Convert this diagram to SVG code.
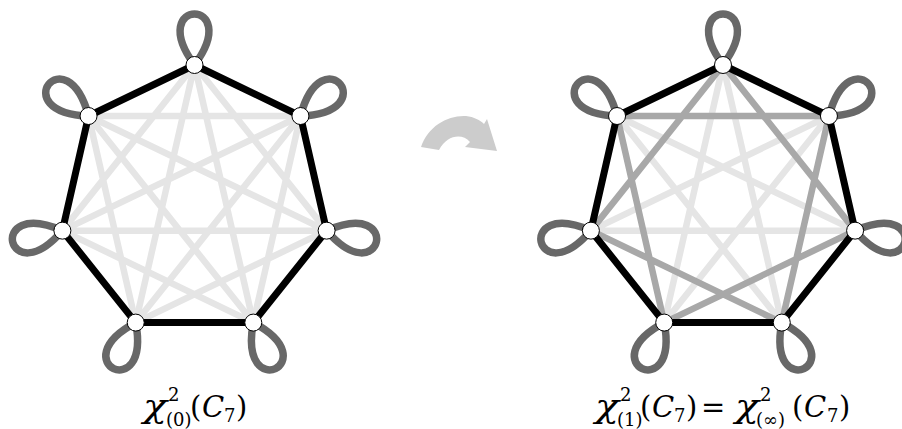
<svg xmlns="http://www.w3.org/2000/svg" xmlns:xlink="http://www.w3.org/1999/xlink" width="902" height="429" viewBox="0 0 902 429">
<style>
.bg{fill:#ffffff}
.c3{stroke:#e5e5e5;stroke-width:6.5;fill:none;stroke-linecap:round}
.c2{stroke:#a8a8a8;stroke-width:6.5;fill:none;stroke-linecap:round}
.cyc{stroke:#000000;stroke-width:7;fill:none;stroke-linejoin:miter}
.lp{stroke:#686868;stroke-width:7.5;fill:none}
.nd{fill:#ffffff;stroke:#000000;stroke-width:1}
.mi{font-family:'DejaVu Serif','Liberation Serif',serif;font-style:italic;font-size:29px;fill:#000}
.chi{font-family:'DejaVu Serif','Liberation Serif',serif;font-style:italic;font-size:32px;fill:#000}
.rm{font-family:'DejaVu Serif','Liberation Serif',serif;font-size:29px;fill:#000}
.sm{font-family:'DejaVu Serif','Liberation Serif',serif;font-size:18px;fill:#000}
</style>
<defs>
<path id="loop" d="M0,0 C-50,-68 50,-68 0,0"/>
</defs>
<rect class="bg" x="0" y="0" width="902" height="429"/>

<!-- Left graph -->
<g id="graphL" transform="translate(194.5,200.5)">
<g id="edgesL">
<path class="c3" d="M0,-135.5 L132.1,30.15 M105.94,-84.48 L58.79,122.08 M132.1,30.15 L-58.79,122.08 M58.79,122.08 L-132.1,30.15 M-58.79,122.08 L-105.94,-84.48 M-132.1,30.15 L0,-135.5 M-105.94,-84.48 L105.94,-84.48"/>
<path class="c3" d="M0,-135.5 L58.79,122.08 M105.94,-84.48 L-58.79,122.08 M132.1,30.15 L-132.1,30.15 M58.79,122.08 L-105.94,-84.48 M-58.79,122.08 L0,-135.5 M-132.1,30.15 L105.94,-84.48 M-105.94,-84.48 L132.1,30.15"/>
<path class="cyc" d="M0,-135.5 L105.94,-84.48 L132.1,30.15 L58.79,122.08 L-58.79,122.08 L-132.1,30.15 L-105.94,-84.48 Z"/>
<use xlink:href="#loop" class="lp" transform="translate(0,-135.5) rotate(0)"/>
<use xlink:href="#loop" class="lp" transform="translate(105.94,-84.48) rotate(51.43)"/>
<use xlink:href="#loop" class="lp" transform="translate(132.1,30.15) rotate(102.86)"/>
<use xlink:href="#loop" class="lp" transform="translate(58.79,122.08) rotate(154.29)"/>
<use xlink:href="#loop" class="lp" transform="translate(-58.79,122.08) rotate(205.71)"/>
<use xlink:href="#loop" class="lp" transform="translate(-132.1,30.15) rotate(257.14)"/>
<use xlink:href="#loop" class="lp" transform="translate(-105.94,-84.48) rotate(308.57)"/>
</g>
<g id="L0"><circle class="nd" cx="0" cy="-135.5" r="8.5"/></g>
<g id="L1"><circle class="nd" cx="105.94" cy="-84.48" r="8.5"/></g>
<g id="L2"><circle class="nd" cx="132.1" cy="30.15" r="8.5"/></g>
<g id="L3"><circle class="nd" cx="58.79" cy="122.08" r="8.5"/></g>
<g id="L4"><circle class="nd" cx="-58.79" cy="122.08" r="8.5"/></g>
<g id="L5"><circle class="nd" cx="-132.1" cy="30.15" r="8.5"/></g>
<g id="L6"><circle class="nd" cx="-105.94" cy="-84.48" r="8.5"/></g>
</g>

<!-- Right graph -->
<g id="graphR" transform="translate(723,200.5)">
<g id="edgesR">
<path class="c3" d="M0,-135.5 L58.79,122.08 M105.94,-84.48 L-58.79,122.08 M132.1,30.15 L-132.1,30.15 M58.79,122.08 L-105.94,-84.48 M-58.79,122.08 L0,-135.5 M-132.1,30.15 L105.94,-84.48 M-105.94,-84.48 L132.1,30.15"/>
<path class="c2" d="M0,-135.5 L132.1,30.15 M105.94,-84.48 L58.79,122.08 M132.1,30.15 L-58.79,122.08 M58.79,122.08 L-132.1,30.15 M-58.79,122.08 L-105.94,-84.48 M-132.1,30.15 L0,-135.5 M-105.94,-84.48 L105.94,-84.48"/>
<path class="cyc" d="M0,-135.5 L105.94,-84.48 L132.1,30.15 L58.79,122.08 L-58.79,122.08 L-132.1,30.15 L-105.94,-84.48 Z"/>
<use xlink:href="#loop" class="lp" transform="translate(0,-135.5) rotate(0)"/>
<use xlink:href="#loop" class="lp" transform="translate(105.94,-84.48) rotate(51.43)"/>
<use xlink:href="#loop" class="lp" transform="translate(132.1,30.15) rotate(102.86)"/>
<use xlink:href="#loop" class="lp" transform="translate(58.79,122.08) rotate(154.29)"/>
<use xlink:href="#loop" class="lp" transform="translate(-58.79,122.08) rotate(205.71)"/>
<use xlink:href="#loop" class="lp" transform="translate(-132.1,30.15) rotate(257.14)"/>
<use xlink:href="#loop" class="lp" transform="translate(-105.94,-84.48) rotate(308.57)"/>
</g>
<g id="R0"><circle class="nd" cx="0" cy="-135.5" r="8.5"/></g>
<g id="R1"><circle class="nd" cx="105.94" cy="-84.48" r="8.5"/></g>
<g id="R2"><circle class="nd" cx="132.1" cy="30.15" r="8.5"/></g>
<g id="R3"><circle class="nd" cx="58.79" cy="122.08" r="8.5"/></g>
<g id="R4"><circle class="nd" cx="-58.79" cy="122.08" r="8.5"/></g>
<g id="R5"><circle class="nd" cx="-132.1" cy="30.15" r="8.5"/></g>
<g id="R6"><circle class="nd" cx="-105.94" cy="-84.48" r="8.5"/></g>
</g>

<!-- Curved arrow -->
<g id="arrow">
<path fill="#cccccc" d="M421,147 C428,126 448,115 466,116 C474,117 480,120 484,124 L487,119 L497,151 L465,147 L470,142 C462,133 447,135 439,150 Z"/>
</g>

<!-- Labels -->
<g id="labelL">
<text class="chi" x="143" y="417" textLength="24" lengthAdjust="spacingAndGlyphs">χ</text>
<text class="sm" x="168" y="401">2</text>
<text class="sm" x="166" y="426">(0)</text>
<text class="rm" x="190" y="417">(</text>
<text class="mi" x="202" y="417">C</text>
<text class="sm" x="224" y="422">7</text>
<text class="rm" x="236" y="417">)</text>
</g>
<g id="labelR">
<text class="chi" x="595" y="417" textLength="24" lengthAdjust="spacingAndGlyphs">χ</text>
<text class="sm" x="620" y="401">2</text>
<text class="sm" x="617" y="426">(1)</text>
<text class="rm" x="640" y="417">(</text>
<text class="mi" x="652" y="417">C</text>
<text class="sm" x="674" y="422">7</text>
<text class="rm" x="686" y="417">)</text>
<text class="rm" x="701" y="417">=</text>
<text class="chi" x="735" y="417" textLength="24" lengthAdjust="spacingAndGlyphs">χ</text>
<text class="sm" x="760" y="401">2</text>
<text class="sm" x="756" y="426">(∞)</text>
<text class="rm" x="792" y="417">(</text>
<text class="mi" x="804" y="417">C</text>
<text class="sm" x="827" y="422">7</text>
<text class="rm" x="839" y="417">)</text>
</g>
</svg>
